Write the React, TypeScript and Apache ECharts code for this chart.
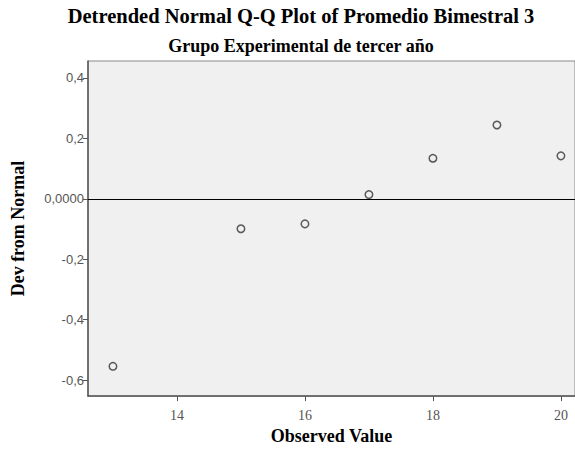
import React, { useEffect, useRef } from "react";
import * as echarts from "echarts";

const observedValues = [13, 15, 16, 17, 18, 19, 20];
const devFromNormal = [-0.554, -0.099, -0.083, 0.014, 0.134, 0.244, 0.142];
const xTickValues = [14, 16, 18, 20];
const yTickValues = [-0.6, -0.4, -0.2, 0, 0.2, 0.4];

const titleText = "Detrended Normal Q-Q Plot of Promedio Bimestral 3";
const subtitleText = "Grupo Experimental de tercer año";

export default function App() {
  const ref = useRef<HTMLDivElement>(null);
  useEffect(() => {
    if (!ref.current) return;
    const chart = echarts.init(ref.current, null, { renderer: "svg" });
    const serif = "'Liberation Serif', 'Times New Roman', serif";
    const sans = "'Liberation Sans', Arial, sans-serif";
    chart.setOption({
      animation: false,
      backgroundColor: "#ffffff",
      title: [
        {
          text: titleText,
          left: 296,
          top: 0,
          textAlign: "center",
          textStyle: { fontFamily: serif, fontWeight: "bold", fontSize: 20.5, color: "#000" },
        },
        {
          text: subtitleText,
          left: 296,
          top: 32,
          textAlign: "center",
          textStyle: { fontFamily: serif, fontWeight: "bold", fontSize: 18, color: "#000" },
        },
      ],
      grid: {
        left: 88,
        top: 61,
        right: 0,
        bottom: 51,
        show: true,
        backgroundColor: "#f0f0f0",
        borderColor: "#8a8a8a",
        borderWidth: 1,
      },
      xAxis: {
        type: "value",
        min: 12.61,
        max: 20.22,
        name: "Observed Value",
        nameLocation: "middle",
        nameGap: 27,
        nameTextStyle: { fontFamily: serif, fontWeight: "bold", fontSize: 18, color: "#000" },
        axisLine: { show: true, onZero: false, lineStyle: { color: "#555", width: 1.5 } },
        axisTick: { show: true, length: 5, customValues: xTickValues, lineStyle: { color: "#555", width: 1 } },
        axisLabel: {
          customValues: xTickValues,
          fontFamily: serif,
          fontSize: 14,
          color: "#555",
          margin: 12,
        },
        splitLine: { show: false },
      },
      yAxis: {
        type: "value",
        min: -0.6525,
        max: 0.4557,
        name: "Dev from Normal",
        nameLocation: "middle",
        nameGap: 61,
        nameRotate: 90,
        nameTextStyle: { fontFamily: serif, fontWeight: "bold", fontSize: 18, color: "#000" },
        axisLine: { show: true, onZero: false, lineStyle: { color: "#555", width: 1.5 } },
        axisTick: { show: true, length: 5, customValues: yTickValues, lineStyle: { color: "#555", width: 1 } },
        axisLabel: {
          customValues: yTickValues,
          fontFamily: sans,
          fontSize: 13,
          color: "#555",
          margin: 4,
          formatter: (v: number) =>
            Math.abs(v) < 1e-9 ? "0,0000" : v.toFixed(1).replace(".", ","),
        },
        splitLine: { show: false },
      },
      series: [
        {
          type: "scatter",
          data: observedValues.map((x, i) => [x, devFromNormal[i]]),
          symbol: "circle",
          symbolSize: 7.5,
          itemStyle: { color: "transparent", borderColor: "#333", borderWidth: 1.5 },
          markLine: {
            silent: true,
            symbol: ["none", "none"],
            label: { show: false },
            lineStyle: { color: "#000", width: 1, type: "solid" },
            data: [{ yAxis: 0 }],
          },
        },
      ],
    });
    return () => chart.dispose();
  }, []);
  return <div ref={ref} style={{ width: 575, height: 450, position: "absolute", left: 0, top: 0 }} />;
}
